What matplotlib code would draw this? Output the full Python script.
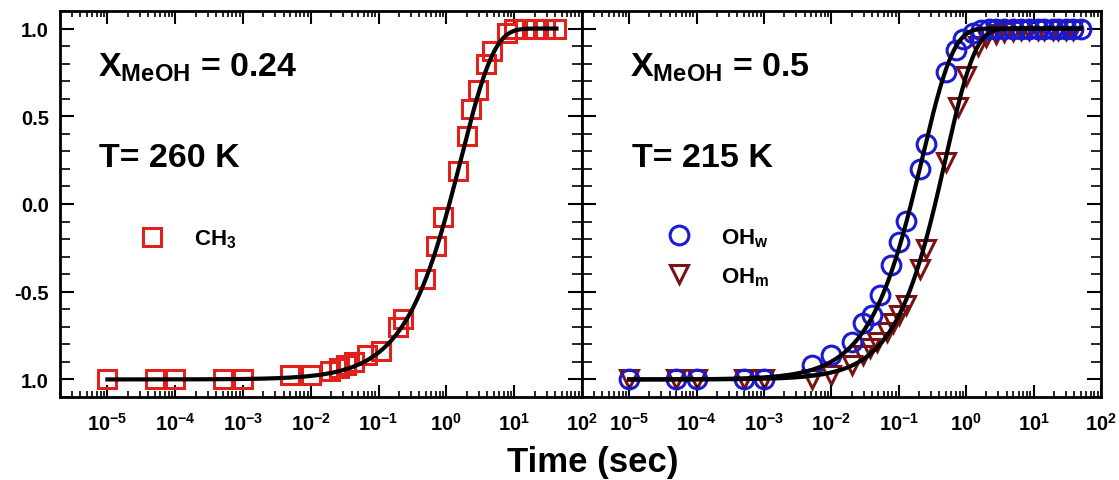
import numpy as np
import matplotlib
matplotlib.use("Agg")
import matplotlib.pyplot as plt
from matplotlib.ticker import LogLocator, MultipleLocator, FixedLocator, FixedFormatter, NullFormatter

plt.rcParams['font.family'] = ['Liberation Sans', 'DejaVu Sans']
plt.rcParams['font.weight'] = 'bold'
plt.rcParams['mathtext.fontset'] = 'custom'
plt.rcParams['mathtext.rm'] = 'Liberation Sans:bold'
plt.rcParams['mathtext.it'] = 'Liberation Sans:bold'
plt.rcParams['mathtext.bf'] = 'Liberation Sans:bold'
plt.rcParams['mathtext.default'] = 'rm'

# CH3 band, X_MeOH = 0.24, T = 260 K
t_ch3 = [1e-5, 5e-5, 1e-4, 5e-4, 1e-3, 5e-3, 1e-2, 0.019, 0.026, 0.033, 0.044,
         0.068, 0.107, 0.195, 0.23, 0.48, 0.71, 0.89, 1.48, 2.0, 2.34, 2.95,
         3.8, 4.7, 7.8, 10.0, 14.5, 20.0, 28.0, 42.0]
y_ch3 = [-0.995, -0.995, -0.995, -0.995, -0.995, -0.977, -0.977, -0.95, -0.935,
         -0.92, -0.90, -0.86, -0.84, -0.70, -0.655, -0.43, -0.24, -0.075, 0.19,
         0.39, 0.54, 0.65, 0.795, 0.87, 0.975, 0.995, 1.0, 1.0, 1.0, 1.0]

# OH bands, X_MeOH = 0.5, T = 215 K
t_ohw = [1e-5, 5e-5, 1e-4, 5e-4, 1e-3, 5.1e-3, 1e-2, 0.02, 0.0295, 0.04, 0.0525,
         0.078, 0.1, 0.129, 0.204, 0.257, 0.5, 0.7, 0.9, 1.26, 1.66, 2.19,
         2.75, 3.63, 4.9, 6.5, 8.5, 11.5, 14.1, 19.5, 23.4, 30.2, 38.0, 50.0]
y_ohw = [-0.995, -0.995, -0.995, -0.995, -0.995, -0.92, -0.862, -0.786, -0.68,
         -0.635, -0.52, -0.35, -0.218, -0.095, 0.20, 0.34, 0.75, 0.88, 0.94,
         0.975, 0.99, 1.0, 1.0, 1.0, 1.0, 1.0, 1.0, 1.0, 1.0, 1.0, 1.0, 1.0,
         1.0, 1.0]

t_ohm = [1e-5, 5e-5, 1e-4, 5e-4, 1e-3, 5.1e-3, 1e-2, 0.02, 0.0295, 0.037, 0.047,
         0.066, 0.083, 0.102, 0.129, 0.204, 0.257, 0.5, 0.76, 1.0, 1.48, 2.0,
         2.75, 3.63, 4.9, 6.5, 8.5, 11.5, 14.1, 19.5, 23.4, 30.2, 38.0]
y_ohm = [-1.0, -1.0, -1.0, -1.0, -1.0, -1.0, -0.975, -0.92, -0.86, -0.82, -0.786,
         -0.73, -0.68, -0.635, -0.578, -0.37, -0.256, 0.237, 0.55, 0.73, 0.90,
         0.95, 0.97, 0.98, 0.985, 0.99, 0.99, 0.99, 0.99, 0.99, 0.99, 0.99, 0.99]

# stretched-exponential fit parameters (tau in sec, beta)
fit_ch3 = (1.66, 0.90)
fit_ohw = (0.224, 0.95)
fit_ohm = (0.50, 1.0)


def kww(t, tau, beta):
    return 1.0 - 2.0 * np.exp(-(t / tau) ** beta)


def style_axis(ax, show_ylabels):
    ax.set_xscale('log')
    ax.set_xlim(2e-6, 100)
    ax.set_ylim(-1.1, 1.1)
    ax.xaxis.set_major_locator(FixedLocator([10.0 ** k for k in range(-5, 3)]))
    ax.xaxis.set_minor_locator(LogLocator(base=10, subs=np.arange(2, 10), numticks=30))
    ax.xaxis.set_minor_formatter(NullFormatter())
    ax.xaxis.set_major_formatter(FixedFormatter(
        [r'$10^{%d}$' % k for k in range(-5, 3)]))
    ax.yaxis.set_major_locator(FixedLocator([-1.0, -0.5, 0.0, 0.5, 1.0]))
    ax.yaxis.set_major_formatter(FixedFormatter(['1.0', '-0.5', '0.0', '0.5', '1.0']))
    ax.yaxis.set_minor_locator(MultipleLocator(0.1))
    ax.tick_params(axis='x', which='major', direction='in', length=9, width=1.5,
                   top=True, bottom=True, labelsize=14.5, pad=11)
    ax.tick_params(axis='x', which='minor', direction='in', length=4.5, width=1.2,
                   top=True, bottom=True)
    ax.tick_params(axis='y', which='major', direction='in', length=10, width=1.5,
                   left=True, right=True, labelsize=14.5, pad=8,
                   labelleft=show_ylabels)
    ax.tick_params(axis='y', which='minor', direction='in', length=7, width=1.2,
                   left=True, right=True)
    for sp in ax.spines.values():
        sp.set_linewidth(2)


fig = plt.figure(figsize=(11.19, 4.81), dpi=100)
ax1 = fig.add_axes([0.0536, 0.1726, 0.4665, 0.8025])
ax2 = fig.add_axes([0.5201, 0.1726, 0.4638, 0.8025])

# left panel
tt = np.logspace(-5, np.log10(42), 400)
ax1.plot(tt, kww(tt, *fit_ch3), color='black', lw=3, zorder=3)
ax1.plot(t_ch3, y_ch3, 's', ms=12.5, mfc='none', mec='#e3211c', mew=2.2,
         label=r'CH$_3$', zorder=2)
style_axis(ax1, True)
ax1.text(0.073, 0.832, r'X$_{MeOH}$ = 0.24', transform=ax1.transAxes,
         fontsize=24.5, fontweight='bold', va='baseline', ha='left')
ax1.text(0.075, 0.598, 'T= 260 K', transform=ax1.transAxes,
         fontsize=24.5, fontweight='bold', va='baseline', ha='left')
ax1.legend(loc='center left', bbox_to_anchor=(0.155, 0.41), frameon=False,
           fontsize=16, handlelength=1.0, handletextpad=1.4, borderpad=0,
           borderaxespad=0)

# right panel
tt = np.logspace(-5, np.log10(50), 400)
ax2.plot(tt, kww(tt, *fit_ohw), color='black', lw=3, zorder=3)
ax2.plot(tt, kww(tt, *fit_ohm), color='black', lw=3, zorder=3)
ax2.plot(t_ohm, y_ohm, 'v', ms=13.5, mfc='none', mec='#7a1414', mew=2.2,
         label=r'OH$_m$', zorder=1)
ax2.plot(t_ohw, y_ohw, 'o', ms=13.5, mfc='none', mec='#1a1ad0', mew=2.2,
         label=r'OH$_w$', zorder=2)
style_axis(ax2, False)
ax2.text(0.092, 0.832, r'X$_{MeOH}$ = 0.5', transform=ax2.transAxes,
         fontsize=24.5, fontweight='bold', va='baseline', ha='left')
ax2.text(0.096, 0.598, 'T= 215 K', transform=ax2.transAxes,
         fontsize=24.5, fontweight='bold', va='baseline', ha='left')
h, l = ax2.get_legend_handles_labels()
ax2.legend(h[::-1], l[::-1], loc='center left', bbox_to_anchor=(0.165, 0.363),
           frameon=False, fontsize=16, handlelength=1.0, handletextpad=1.4,
           borderpad=0, borderaxespad=0, labelspacing=0.75)

fig.text(593 / 1119, 0.019, 'Time (sec)', fontsize=25, fontweight='bold',
         ha='center', va='baseline')

fig.savefig('out.png', dpi=100)
